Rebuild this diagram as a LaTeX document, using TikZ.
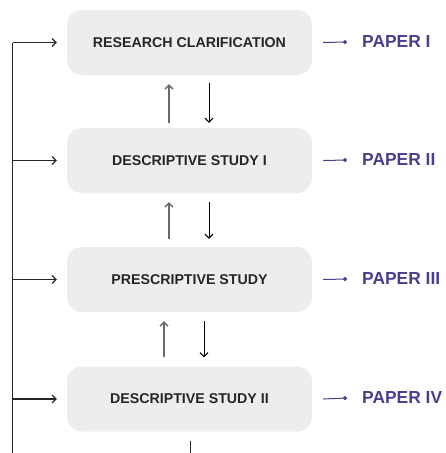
\documentclass[tikz,border=0pt]{standalone}
\usepackage{fontspec}
\setmainfont{Liberation Sans}
\usetikzlibrary{arrows.meta}
\definecolor{stagefill}{HTML}{EDEDED}
\definecolor{paperink}{HTML}{4B3E8E}
\definecolor{upink}{HTML}{6A6A6A}
\begin{document}
\begin{tikzpicture}[x=1pt,y=-1pt,
  stagebox/.style={fill=stagefill, rounded corners=15pt, minimum width=245pt,
    minimum height=65pt, inner sep=0pt, font=\fontsize{14.2}{16}\selectfont\bfseries,
    text=black!85},
  paperlabel/.style={anchor=west, inner sep=0pt, text=paperink,
    font=\fontsize{17.4}{20}\selectfont\bfseries},
  feed/.style={line width=1.1pt, draw=black!85, -{Straight Barb[length=4pt,width=8pt]}},
  upflow/.style={line width=1.3pt, draw=upink, -{Straight Barb[length=4pt,width=8pt]}},
  downflow/.style={line width=1pt, draw=black, -{Straight Barb[length=4pt,width=8pt]}},
  paperlink/.style={line width=1pt, draw=paperink, -{Circle[length=4pt]}}]
\useasboundingbox (0,0) rectangle (445,453);

% stages
\node[stagebox] (s1) at (189.5,42.5) {RESEARCH CLARIFICATION};
\node[stagebox] (s2) at (189.5,160.5) {DESCRIPTIVE STUDY I};
\node[stagebox] (s3) at (189.5,279.5) {PRESCRIPTIVE STUDY};
\node[stagebox] (s4) at (189.5,399) {DESCRIPTIVE STUDY II};

% papers
\node[paperlabel] (p1) at (362,42) {PAPER I};
\node[paperlabel] (p2) at (362,160) {PAPER II};
\node[paperlabel] (p3) at (362,279) {PAPER III};
\node[paperlabel] (p4) at (362,398) {PAPER IV};

\foreach \i in {1,...,4}{
  \draw[paperlink] ([xshift=11pt]s\i.east) -- ([xshift=-15pt]p\i.west);
}

% feedback rail on the left
\coordinate (railtop) at (12.5,42.5);
\coordinate (railbot) at (12.5,453);
\draw[line width=1.1pt, draw=black!85] (railbot) -- (railtop);
\foreach \i in {1,...,4}{
  \draw[feed] (railtop |- s\i.west) -- ([xshift=-10pt]s\i.west);
}

% iteration between consecutive stages
\draw[upflow]   ([xshift=-20.5pt,yshift=5pt]s2.north) -- ([xshift=-20.5pt,yshift=-9pt]s1.south);
\draw[downflow] ([xshift=19.5pt,yshift=-8pt]s1.south) -- ([xshift=19.5pt,yshift=5pt]s2.north);
\draw[upflow]   ([xshift=-20.5pt,yshift=8pt]s3.north) -- ([xshift=-20.5pt,yshift=-9pt]s2.south);
\draw[downflow] ([xshift=19.5pt,yshift=-9pt]s2.south) -- ([xshift=19.5pt,yshift=8pt]s3.north);
\draw[upflow]   ([xshift=-25.5pt,yshift=9pt]s4.north) -- ([xshift=-25.5pt,yshift=-9pt]s3.south);
\draw[downflow] ([xshift=14.5pt,yshift=-9pt]s3.south) -- ([xshift=14.5pt,yshift=9pt]s4.north);

% continuation below the last stage
\coordinate (tailend) at (190,453);
\draw[line width=1pt, draw=black!85] ([yshift=-9pt]s4.south -| tailend) -- (tailend);
\end{tikzpicture}
\end{document}
